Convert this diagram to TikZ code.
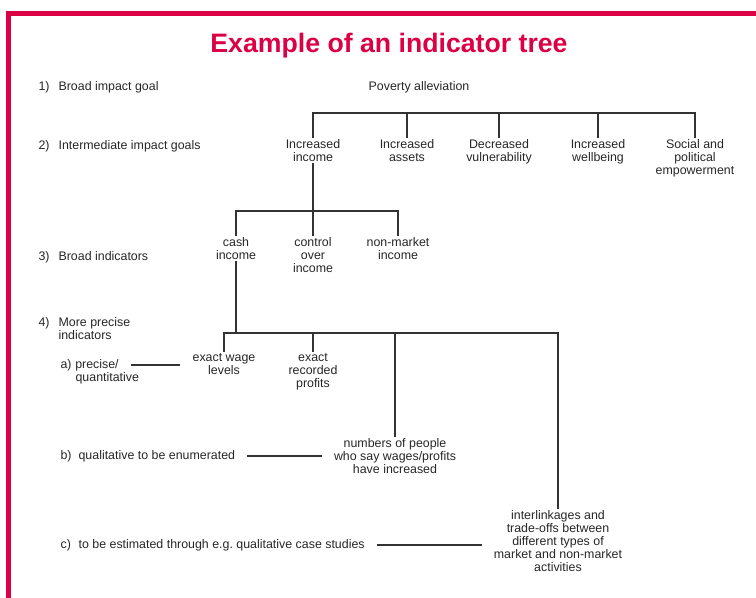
\documentclass[tikz,border=0pt]{standalone}
\usepackage{fontspec}
\setmainfont{Liberation Sans}
\usetikzlibrary{positioning,calc}
\definecolor{crimson}{RGB}{220,0,68}
\newcommand{\lvlno}[2][15pt]{\makebox[#1][l]{#2}}

\begin{document}
\begin{tikzpicture}[
  x=0.75pt, y=-0.75pt,
  every node/.style={font=\fontsize{9.3}{9.75}\selectfont, text=black!85},
  goal/.style ={align=center, inner sep=1pt, anchor=north},
  lvl/.style  ={align=left, inner sep=1pt, anchor=west},
  titl/.style ={font=\fontsize{20}{24}\selectfont\bfseries, text=crimson},
  link/.style ={draw=black!80, line width=0.9pt},
  side/.style ={link, shorten <=8pt, shorten >=8pt}]

\useasboundingbox (0,0) rectangle (756,598);

% red frame, top and left only
\fill[crimson] (6,11) rectangle (756,16);
\fill[crimson] (6,11) rectangle (11,598);

\node[titl] (title) at (389,46) {Example of an indicator tree};

% level labels on the left
\node[lvl] (l1) at (37,87)    {\lvlno{1)}Broad impact goal};
\node[lvl] (l2) at (37,146)   {\lvlno{2)}Intermediate impact goals};
\node[lvl] (l3) at (37,257)   {\lvlno{3)}Broad indicators};
\node[lvl] (l4) at (37,328.5) {\lvlno{4)}More precise\\\lvlno{}indicators};
\node[lvl] (la)  at (59,365)  {\lvlno[11pt]{a)}precise/};
\node[lvl] (laq) at (74,378)  {quantitative};
\node[lvl] (lb)  at (59,456)  {\lvlno[13.5pt]{b)}qualitative to be enumerated};
\node[lvl] (lc)  at (59,545)  {\lvlno[13.5pt]{c)}to be estimated through e.g.\ qualitative case studies};

% 1) and 2)
\node (root) at (419,87) {Poverty alleviation};
\node[goal] (inc) at (313,138) {Increased\\income};
\node[goal] (ast) at (407,138) {Increased\\assets};
\node[goal] (vul) at (499,138) {Decreased\\vulnerability};
\node[goal] (wel) at (598,138) {Increased\\wellbeing};
\node[goal] (soc) at (695,138) {Social and\\political\\empowerment};

\coordinate (bar2) at (0,113);
\draw[link] (inc.north) -- (inc.north |- bar2) -- (soc.north |- bar2) -- (soc.north);
\foreach \n in {ast,vul,wel}
  \draw[link] (\n.north) -- (\n.north |- bar2);

% 3) broad indicators
\node[goal] (cash) at (236,236) {cash\\income};
\node[goal] (ctrl) at (313,236) {control\\over\\income};
\node[goal] (nonm) at (398,236) {non-market\\income};

\coordinate (bar3) at (0,211);
\draw[link] (inc.south) -- (ctrl.north);
\draw[link] (cash.north) -- (cash.north |- bar3) -- (nonm.north |- bar3) -- (nonm.north);

% 4) more precise indicators
\node[goal] (wage) at (224,352) {exact wage\\levels};
\node[goal] (prof) at (313,352) {exact\\recorded\\profits};
\node[goal] (numb) at (395,437) {numbers of people\\who say wages/profits\\have increased};
\node[goal] (intl) at (558,509) {interlinkages and\\trade-offs between\\different types of\\market and non-market\\activities};

\coordinate (bar4) at (0,333);
\draw[link] (cash.south) -- (cash.south |- bar4);
\draw[link] (wage.north) -- (wage.north |- bar4) -- (intl.north |- bar4) -- (intl.north);
\foreach \n in {prof,numb}
  \draw[link] (\n.north) -- (\n.north |- bar4);

% a), b), c) pointers
\draw[side] (la.east) -- (la.east -| wage.west);
\draw[side] (lb.east) -- (lb.east -| numb.west);
\draw[side] (lc.east) -- (lc.east -| intl.west);
\end{tikzpicture}
\end{document}
